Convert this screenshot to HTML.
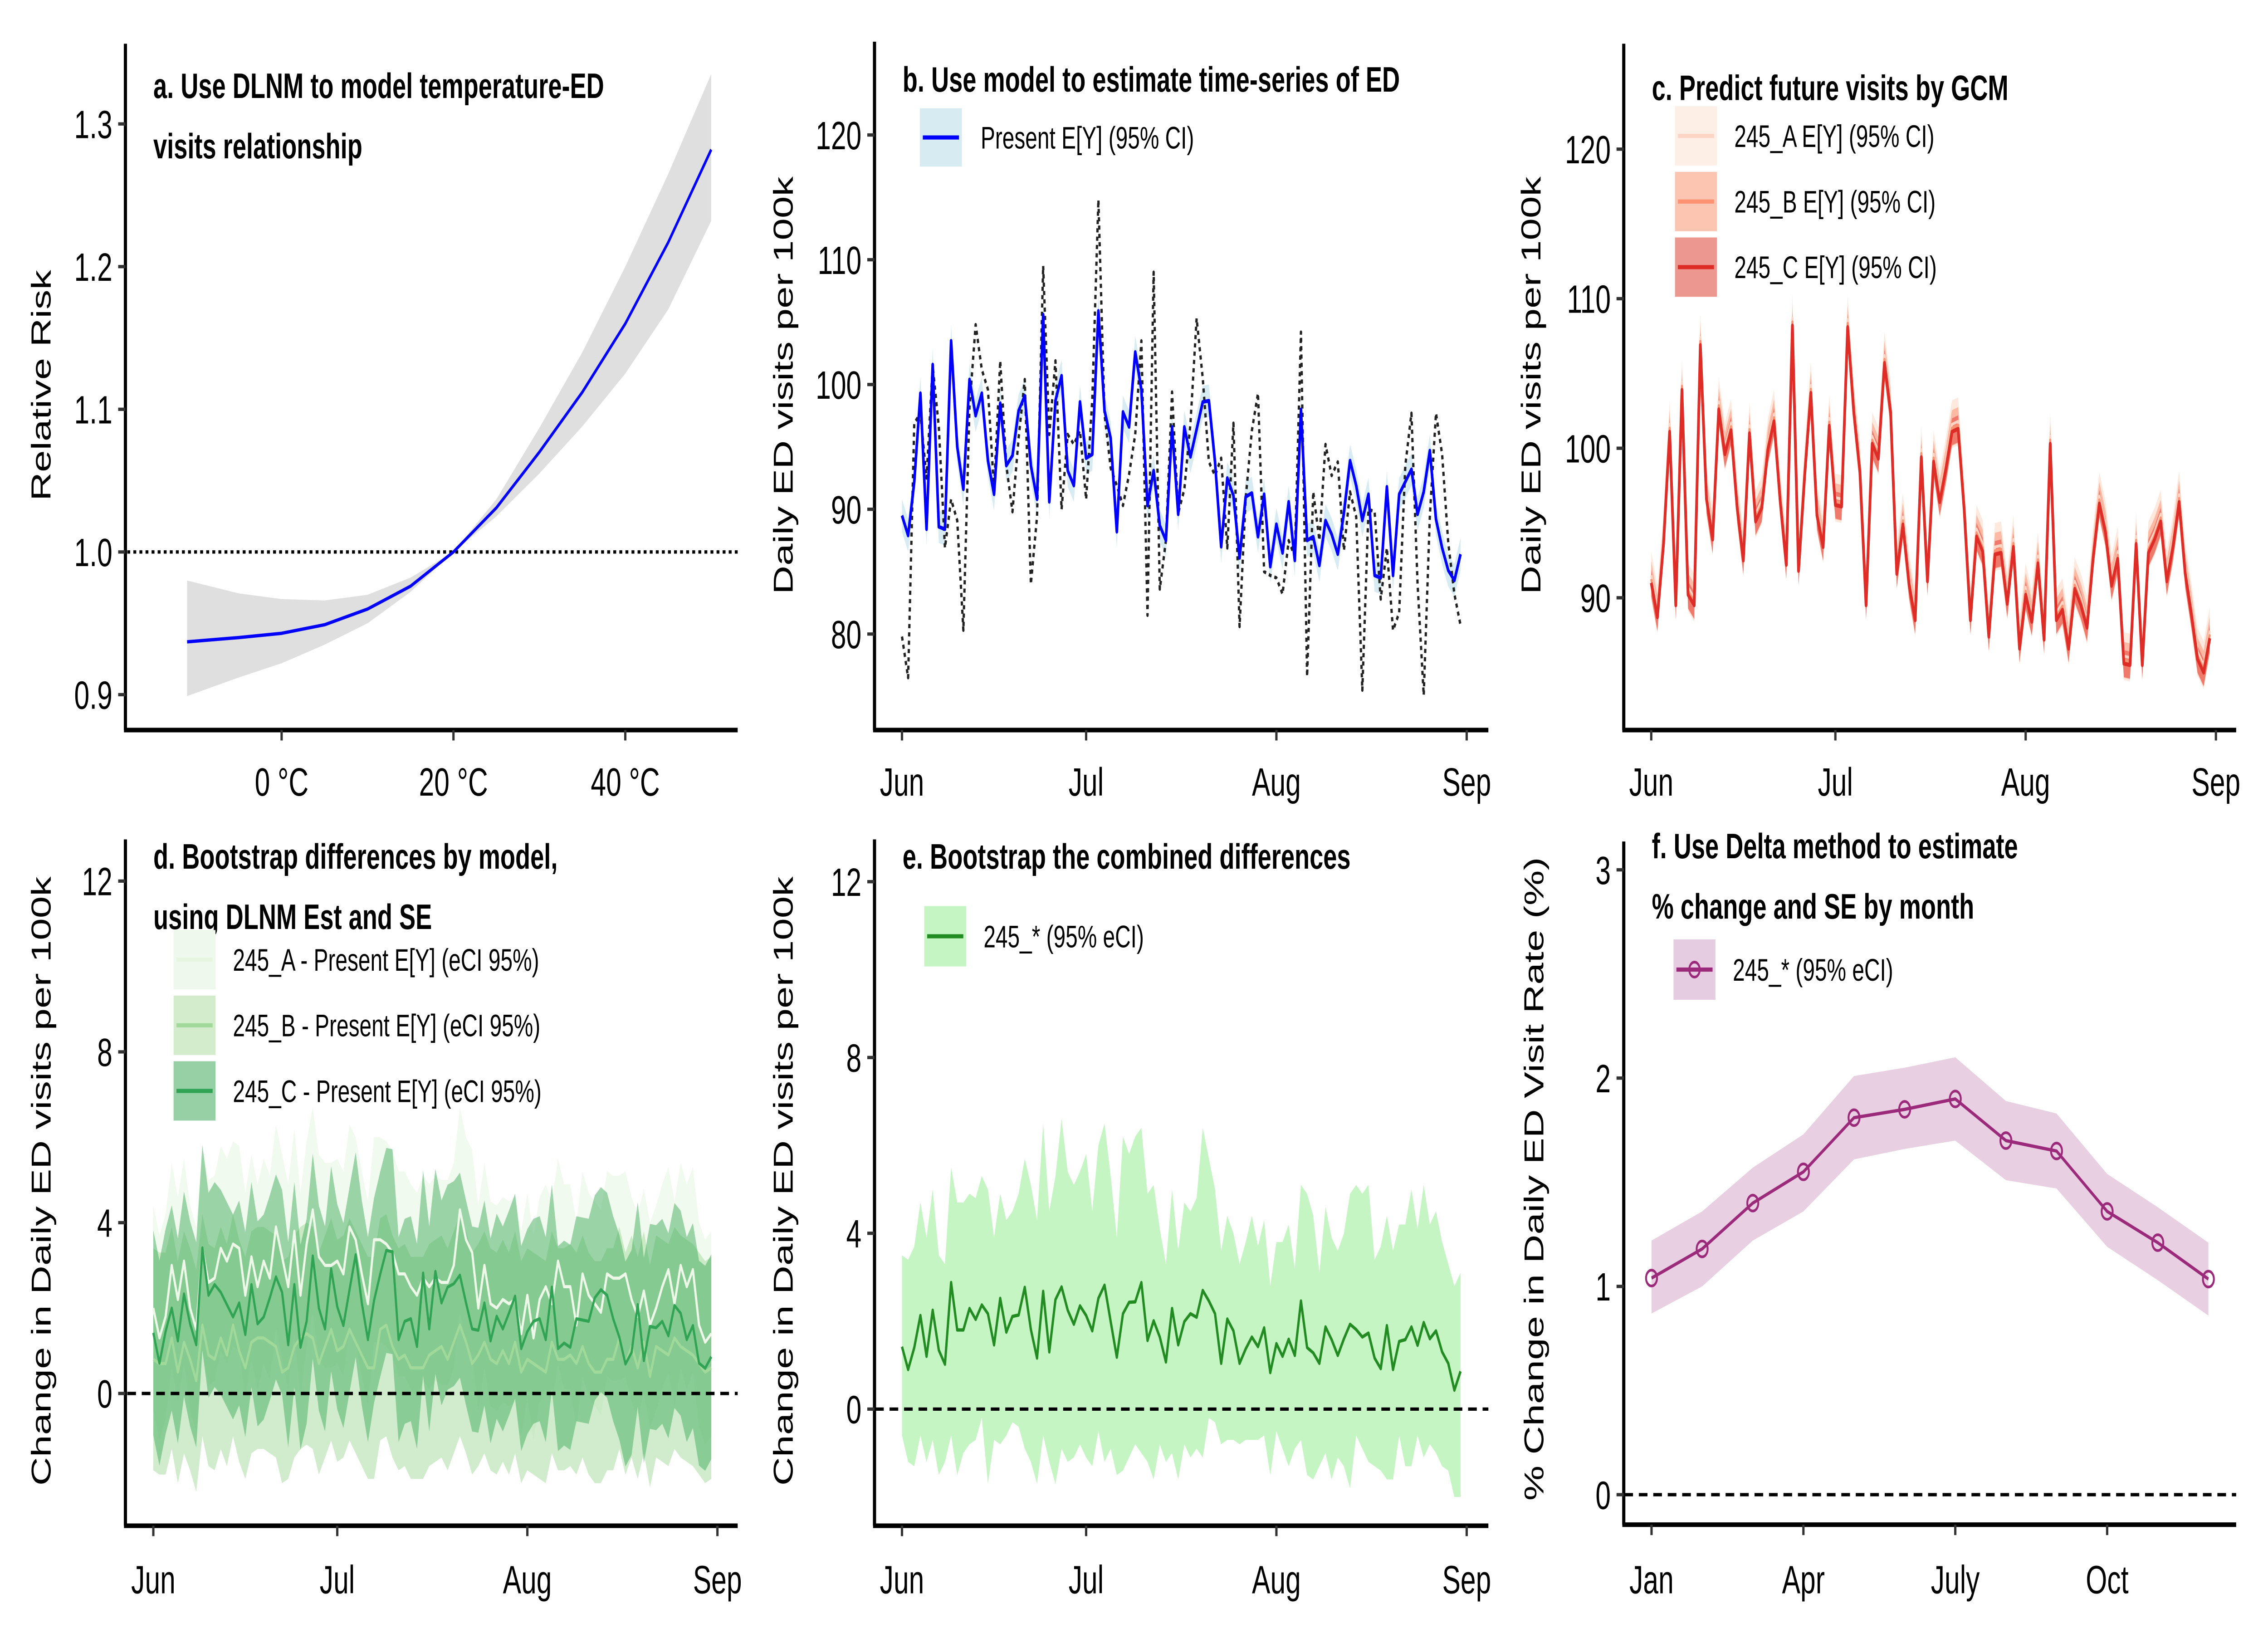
<!DOCTYPE html>
<html><head><meta charset="utf-8"><style>
html,body{margin:0;padding:0;background:#fff;width:100%;height:100%;overflow:hidden;}
svg{display:block;width:100vw;height:100vh;}
text{font-family:"Liberation Sans",Arial,sans-serif;}
</style></head><body>
<svg id="fig" xmlns="http://www.w3.org/2000/svg" viewBox="0 0 1568 784" preserveAspectRatio="none">
<rect x="0" y="0" width="1568" height="784" fill="#fff"/>
</svg>
<script>
// ---------- Panel a data ----------
const tempsA = [-11,-5,0,5,10,15,20,25,30,35,40,45,50];
const rrA = [0.937,0.940,0.943,0.949,0.960,0.976,1.0,1.031,1.070,1.112,1.160,1.217,1.282];
const rrLowA = [0.899,0.912,0.922,0.935,0.950,0.972,1.0,1.025,1.055,1.088,1.125,1.170,1.232];
const rrHighA = [0.980,0.971,0.967,0.966,0.970,0.982,1.0,1.037,1.087,1.140,1.200,1.265,1.335];
const ticksAx = [0,20,40];
const ticksAy = [0.9,1.0,1.1,1.2,1.3];
// ---------- Panel b data ----------
const presentB = [89.5,87.9,92.2,99.3,88.4,101.6,88.6,88.4,103.5,95.0,91.6,100.4,97.5,99.3,93.9,91.2,98.5,93.5,94.3,97.9,99.1,93.5,90.8,105.6,90.6,98.7,100.7,93.1,91.9,98.6,94.1,94.4,105.9,97.9,95.7,88.2,97.8,96.6,102.6,99.6,90.3,93.1,88.7,87.5,96.6,89.6,96.6,94.2,96.4,98.6,98.7,93.8,87.0,92.5,91.1,86.1,91.0,91.3,87.8,91.2,85.4,88.8,86.5,90.6,85.9,98.0,87.5,87.8,85.5,89.1,88.0,86.4,89.7,93.9,91.9,89.1,91.2,84.7,84.5,91.8,84.7,91.2,92.2,93.2,89.6,91.4,94.7,89.2,86.9,85.1,84.3,86.4];
const observedB = [79.8,76.5,96.9,97.7,92.5,101.5,96.6,86.9,90.8,89.1,80.3,98.2,104.8,101.2,99.6,91.6,101.9,93.5,89.8,95.7,100.4,84.0,89.4,109.5,96.0,101.9,90.0,96.0,95.2,96.3,90.8,98.8,114.8,97.6,93.3,91.9,90.3,92.8,96.0,103.5,81.5,109.0,83.6,87.5,99.4,89.7,91.6,96.9,105.3,100.5,93.8,92.7,94.1,86.9,96.9,80.6,90.9,96.3,99.3,85.0,84.7,84.5,83.2,87.5,86.2,104.2,76.6,91.4,87.5,95.2,92.7,93.8,86.7,91.4,89.4,75.5,90.0,89.8,82.8,86.9,80.3,81.7,93.5,97.7,84.0,75.1,89.5,97.7,94.4,87.3,83.2,80.7];
const ciHalfB = 1.3;
const ticksBy = [80,90,100,110,120];
const monthLabels = ['Jun','Jul','Aug','Sep'];
const monthDays = [0,30,61,92];
// ---------- Panel c data ----------
const futureC = [91.0,88.7,93.6,101.1,89.5,103.9,90.2,89.5,106.9,96.6,93.9,102.6,99.6,101.2,96.0,92.5,101.0,95.1,96.0,99.9,101.8,96.5,92.2,108.2,91.8,98.2,103.7,95.5,93.4,101.5,96.2,96.1,108.1,102.4,98.4,89.5,100.3,99.3,105.7,102.4,91.6,94.9,90.9,88.5,99.4,91.1,99.1,96.4,98.6,101.1,101.3,95.8,88.5,94.1,93.1,87.4,92.9,93.0,89.6,93.4,86.6,90.2,88.4,92.3,87.2,100.3,88.5,89.2,86.6,90.6,89.5,88.0,92.7,96.3,94.4,90.8,92.6,85.6,85.5,93.6,85.5,93.0,93.9,95.1,91.1,93.4,96.4,91.6,88.9,85.9,85.0,87.3];
const shiftC = [0.5,0.25,0];
const halfC = [1.6,1.2,0.9];
const ticksCy = [90,100,110,120];
// ---------- Panel d data ----------
const diffDA = [2.0,1.3,1.8,3.0,2.2,3.1,2.0,1.5,3.4,2.6,2.7,3.4,3.1,3.5,3.4,2.3,3.2,2.5,3.1,2.7,3.9,3.2,2.5,3.8,2.3,3.5,4.3,3.2,3.0,3.0,3.1,2.8,3.9,3.6,2.8,2.1,3.6,3.6,3.5,3.3,2.8,2.8,2.5,2.3,2.7,2.5,2.7,2.6,2.6,3.0,4.3,3.6,3.3,2.0,3.0,2.1,2.0,2.2,2.1,2.2,1.4,2.3,1.3,2.2,2.5,2.1,3.1,2.5,2.5,1.6,2.8,2.3,2.1,1.9,2.8,2.7,2.7,2.8,2.2,1.8,2.4,1.6,2.0,2.5,2.9,2.1,3.0,2.5,2.9,1.6,1.2,1.4];
const diffDB = [0.8,0.7,0.7,1.3,0.5,1.2,0.8,0.3,1.6,0.9,0.8,1.3,0.9,1.6,1.0,0.6,1.2,1.3,1.3,1.2,1.1,0.5,0.6,1.1,1.3,1.4,1.3,0.7,1.1,1.5,1.0,1.1,1.5,1.2,0.9,0.6,0.6,1.5,1.6,1.1,0.8,0.9,0.6,0.6,0.6,0.9,1.0,1.1,0.8,1.2,1.6,1.2,0.7,0.9,1.2,0.8,0.7,1.0,0.7,1.2,0.5,0.8,0.7,0.6,0.5,1.2,0.8,0.8,0.9,0.7,1.1,0.7,0.5,0.5,0.8,0.8,1.3,0.7,1.1,0.6,1.2,0.4,1.1,1.0,0.9,1.3,1.1,1.0,0.9,0.7,0.5,0.6];
const diffDC = [1.42,0.71,1.45,2.0,1.23,2.33,1.63,1.14,3.41,2.3,2.55,2.37,2.08,1.79,2.12,1.38,2.55,1.63,1.79,2.24,2.73,2.37,1.14,2.55,1.08,1.69,3.22,2.0,1.51,2.92,2.03,1.59,2.43,3.25,2.12,1.26,2.18,2.79,3.35,3.32,1.26,1.69,1.75,1.1,2.82,1.51,2.86,2.12,2.49,2.57,2.77,2.12,1.51,1.48,2.12,1.23,1.81,1.51,1.88,2.28,1.05,1.45,1.69,1.75,1.26,2.49,1.05,1.18,1.08,1.75,1.72,1.69,2.24,2.43,2.3,1.75,1.32,0.69,0.96,2.08,0.77,1.57,1.54,1.69,1.35,2.06,1.88,1.26,1.59,0.71,0.59,0.86];
const halfD = [2.4,2.6,2.4];
const ticksDy = [0,4,8,12];
// ---------- Panel e data ----------
const combE = [1.42,0.9,1.4,2.13,1.2,2.25,1.34,1.02,2.88,1.8,1.8,2.29,2.04,2.37,2.17,1.46,2.52,1.75,2.11,2.14,2.77,1.81,1.16,2.68,1.3,2.49,2.78,2.25,1.93,2.35,2.13,1.78,2.52,2.82,1.99,1.18,2.17,2.43,2.44,2.88,1.56,2.01,1.64,1.07,2.29,1.46,1.99,2.17,2.09,2.7,2.46,2.17,1.04,2.05,1.78,1.04,1.37,1.64,1.42,1.85,0.83,1.49,1.2,1.59,1.22,2.46,1.4,1.28,1.04,1.87,1.58,1.22,1.6,1.93,1.81,1.64,1.73,1.16,0.92,1.9,0.9,1.54,1.58,1.87,1.45,1.97,1.6,1.78,1.3,1.04,0.43,0.86];
const upperE = [3.5,3.4,3.7,4.7,3.9,5.0,3.5,3.3,5.5,4.7,4.7,4.9,4.8,5.3,5.0,3.9,4.9,4.3,4.5,4.9,5.7,5.1,4.3,6.5,4.5,5.3,6.6,5.4,5.1,5.4,5.8,4.5,6.0,6.5,5.3,3.9,6.2,5.8,6.2,6.4,4.9,5.1,4.1,3.3,5.0,3.6,4.7,4.5,4.8,6.4,5.7,5.0,3.6,4.4,4.0,3.3,3.8,4.4,3.7,4.3,2.8,3.8,3.8,4.2,3.2,5.1,4.9,4.4,3.1,4.6,3.9,3.6,4.0,4.9,5.1,4.9,5.1,3.4,3.7,4.4,3.6,4.2,4.2,5.0,4.1,5.1,4.2,4.5,3.8,3.3,2.8,3.1];
const lowerE = [-0.6,-1.2,-1.3,-0.6,-1.2,-0.7,-1.5,-1.2,-0.6,-1.5,-1.0,-0.8,-0.7,-0.2,-1.7,-0.7,-0.8,-0.6,-0.3,-0.4,-0.9,-1.2,-1.7,-0.6,-1.2,-1.7,-0.9,-1.2,-1.1,-0.8,-1.1,-1.3,-0.5,-1.2,-0.9,-1.5,-1.4,-1.1,-0.8,-1.0,-1.2,-1.6,-0.8,-1.2,-1.0,-1.6,-0.8,-1.1,-0.9,-1.1,-0.2,-0.3,-0.8,-0.7,-0.7,-0.8,-0.7,-0.7,-0.7,-0.6,-1.5,-0.5,-0.9,-1.3,-0.9,-0.7,-1.5,-1.6,-1.3,-1.0,-1.6,-1.1,-1.3,-1.8,-0.6,-0.9,-1.2,-1.3,-1.4,-1.6,-1.6,-0.6,-1.3,-1.3,-0.6,-1.1,-0.8,-1.0,-1.3,-1.4,-2.0,-2.0];
// ---------- Panel f data ----------
const monthsF = ['Jan','Feb','Mar','Apr','May','Jun','Jul','Aug','Sep','Oct','Nov','Dec'];
const pctF = [1.04,1.18,1.40,1.55,1.81,1.85,1.90,1.70,1.65,1.36,1.21,1.035];
const pctLowF = [0.87,1.0,1.22,1.36,1.61,1.66,1.70,1.51,1.47,1.19,1.03,0.86];
const pctHighF = [1.22,1.36,1.57,1.73,2.01,2.05,2.10,1.89,1.83,1.54,1.38,1.21];
const tickIdxF = [0,3,6,9];
const tickLabF = ['Jan','Apr','July','Oct'];
const ticksFy = [0,1,2,3];

const NS = 'http://www.w3.org/2000/svg';
const svg = document.getElementById('fig');
function mk(tag, attrs, parent){
  const e = document.createElementNS(NS, tag);
  for (const k in attrs) e.setAttribute(k, attrs[k]);
  (parent||svg).appendChild(e);
  return e;
}
function txt(s, attrs, parent){ const t = mk('text', attrs, parent); t.textContent = s; return t; }
function pts(xs, ys){ return xs.map((x,i)=>x.toFixed(2)+','+ys[i].toFixed(2)).join(' '); }

function axes(g, p){
  const ya = mk('line',{x1:p.ax,y1:p.top,x2:p.ax,y2:p.bot,stroke:'#000','stroke-width':2.2},g);
  
  
  const xa = mk('line',{x1:p.ax-1,y1:p.bot,x2:p.right,y2:p.bot,stroke:'#000','stroke-width':2.2},g);
  
  
}
function yTick(g, y, label, ax){
  const l = mk('line',{x1:ax-5,y1:y,x2:ax,y2:y,stroke:'#333','stroke-width':1.6},g);
  
  
  const t = txt(label,{x:ax-9,y:y+6.8,'font-size':19,'text-anchor':'end',fill:'#000'},g);
  
  
}
function xTick(g, x, label, bot, ty){
  const l = mk('line',{x1:x,y1:bot,x2:x,y2:bot+5,stroke:'#333','stroke-width':1.6},g);
  
  
  const t = txt(label,{x:x,y:ty,'font-size':19,'text-anchor':'middle',fill:'#000'},g);
  
  
}
function yTitle(g, s, x, cy){
  const t = txt(s,{x:0,y:0,'font-size':19,'text-anchor':'middle',fill:'#000',transform:'translate('+x+','+cy+') rotate(-90)'},g);
  
  
}
function title(g, lines, x, y0){
  lines.forEach((s,i)=>{
    const t = txt(s,{x:x,y:y0+i*29,'font-size':17,'font-weight':'bold',fill:'#000'},g);
    
    
  });
}
function legendEntry(g, x, y, h, fill, line, label, tx, marker){
  const r = mk('rect',{x:x,y:y,width:29,height:h,fill:fill},g);
  
  
  if (line){
    const l = mk('line',{x1:x+2,y1:y+h/2,x2:x+27,y2:y+h/2,stroke:line.c,'stroke-width':line.w},g);
    
    
  }
  if (marker){
    const c = mk('circle',{cx:x+14.5,cy:y+h/2,r:3.6,fill:'none',stroke:line.c,'stroke-width':1.3},g);
    
    
  }
  const t = txt(label,{x:tx,y:y+h/2+5.3,'font-size':15,fill:'#000'},g);
  
  
}
function band(g, xs, hi, lo, fill, op, name){
  const p = mk('polygon',{points:pts(xs.concat(xs.slice().reverse()), hi.concat(lo.slice().reverse())),fill:fill,'fill-opacity':op},g);
  
  
}
function line(g, xs, ys, color, w, name, dash){
  const a = {points:pts(xs,ys),fill:'none',stroke:color,'stroke-width':w,'stroke-linejoin':'round'};
  if (dash) a['stroke-dasharray']=dash;
  const p = mk('polyline',a,g);
  
  
}
function hline(g, x1, x2, y, dash, name){
  const l = mk('line',{x1:x1,y1:y,x2:x2,y2:y,stroke:'#000','stroke-width':1.6,'stroke-dasharray':dash},g);
  
  
}

// ===== Panel a =====
(function(){
  const g = mk('g',{});
  
  
  const X = t => 194.7 + t*5.94;
  const Y = v => 265 - (v-1)*685;
  const xs = tempsA.map(X);
  band(g, xs, rrHighA.map(Y), rrLowA.map(Y), '#d9d9d9', 0.85, 'ci-band');
  hline(g, 88, 510, Y(1), '2,2.2', 'reference-line');
  line(g, xs, rrA.map(Y), '#0000ff', 1.6, 'relative-risk-curve');
  const p = {ax:86.7, top:21, bot:350.5, right:510};
  axes(g, p);
  ticksAy.forEach(v=>yTick(g, Y(v), v.toFixed(1), p.ax));
  ticksAx.forEach(t=>xTick(g, X(t), t+' °C', p.bot, 382));
  yTitle(g, 'Relative Risk', 35, 185);
  title(g, ['a. Use DLNM to model temperature-ED','visits relationship'], 106, 47);
})();

// ===== Panel b =====
(function(){
  const g = mk('g',{});
  
  
  const X = i => 623.6 + i*(1014-623.6)/92;
  const Y = v => 304.4 - (v-80)*5.99;
  const xs = presentB.map((v,i)=>X(i));
  band(g, xs, presentB.map(v=>Y(v+ciHalfB)), presentB.map(v=>Y(v-ciHalfB)), '#add8e6', 0.5, 'present-ci-band');
  line(g, xs, observedB.map(Y), '#222', 1.6, 'observed-series', '2,2');
  line(g, xs, presentB.map(Y), '#0000ff', 1.8, 'present-series');
  const p = {ax:604.6, top:20, bot:350.5, right:1029};
  axes(g, p);
  ticksBy.forEach(v=>yTick(g, Y(v), String(v), p.ax));
  monthDays.forEach((d,i)=>xTick(g, X(d), monthLabels[i], p.bot, 382));
  yTitle(g, 'Daily ED visits per 100k', 548, 185);
  title(g, ['b. Use model to estimate time-series of ED'], 624, 44);
  legendEntry(g, 636, 52, 28, '#d7ebf2', {c:'#0000ff',w:2}, 'Present E[Y] (95% CI)', 678);
})();

// ===== Panel c =====
(function(){
  const g = mk('g',{});
  
  
  const X = i => 1141.6 + i*(1532-1141.6)/92;
  const Y = v => 287 - (v-90)*7.18;
  const xs = futureC.map((v,i)=>X(i));
  const fills = ['#fee0d2','#fc9272','#de2d26'];
  const ops = [0.7,0.55,0.45];
  const lines = ['#fcd5c5','#fc9272','#de2d26'];
  const names = ['245-a','245-b','245-c'];
  for (let s=0;s<3;s++){
    band(g, xs, futureC.map(v=>Y(v+shiftC[s]+halfC[s])), futureC.map(v=>Y(v+shiftC[s]-halfC[s])), fills[s], ops[s], names[s]+'-ci-band');
  }
  for (let s=0;s<3;s++){
    line(g, xs, futureC.map(v=>Y(v+shiftC[s])), lines[s], s==2?1.9:1.4, names[s]+'-series');
  }
  const p = {ax:1122.6, top:21, bot:350.5, right:1546};
  axes(g, p);
  ticksCy.forEach(v=>yTick(g, Y(v), String(v), p.ax));
  monthDays.forEach((d,i)=>xTick(g, X(d), monthLabels[i], p.bot, 382));
  yTitle(g, 'Daily ED visits per 100k', 1065, 185);
  title(g, ['c. Predict future visits by GCM'], 1142, 48);
  legendEntry(g, 1158, 51, 28.5, '#fdeee6', {c:'#fcd5c5',w:2}, '245_A E[Y] (95% CI)', 1199);
  legendEntry(g, 1158, 82.5, 28.5, '#fcc5b2', {c:'#fc9272',w:2}, '245_B E[Y] (95% CI)', 1199);
  legendEntry(g, 1158, 114, 28.5, '#ec9891', {c:'#de2d26',w:2}, '245_C E[Y] (95% CI)', 1199);
})();

// ===== Panel d =====
(function(){
  const g = mk('g',{});
  
  
  const X = i => 106 + i*(496-106)/92;
  const Y = v => 669 - v*20.5;
  const xs = diffDC.map((v,i)=>X(i));
  const series = [diffDA, diffDB, diffDC];
  const fills = ['#e5f5e0','#a1d99b','#41ab5d'];
  const ops = [0.55,0.5,0.5];
  const lines = ['#edf8e9','#a1d99b','#31a354'];
  const names = ['245-a','245-b','245-c'];
  for (let s=0;s<3;s++){
    band(g, xs, series[s].map(v=>Y(v+halfD[s])), series[s].map(v=>Y(v-halfD[s])), fills[s], ops[s], names[s]+'-eci-band');
  }
  hline(g, 88, 510, Y(0), '6,4', 'zero-line');
  for (let s=0;s<3;s++){
    line(g, xs, series[s].map(Y), lines[s], 1.5, names[s]+'-difference');
  }
  const p = {ax:86.7, top:403, bot:732.5, right:510};
  axes(g, p);
  ticksDy.forEach(v=>yTick(g, Y(v), String(v), p.ax));
  monthDays.forEach((d,i)=>xTick(g, X(d), monthLabels[i], p.bot, 765));
  yTitle(g, 'Change in Daily ED visits per 100k', 35, 567);
  title(g, ['d. Bootstrap differences by model,','using DLNM Est and SE'], 106, 417);
  legendEntry(g, 120, 446.5, 28.5, '#eff8ec', {c:'#e5f5e0',w:2}, '245_A - Present E[Y] (eCI 95%)', 161);
  legendEntry(g, 120, 478, 28.5, '#d3edcc', {c:'#a1d99b',w:2}, '245_B - Present E[Y] (eCI 95%)', 161);
  legendEntry(g, 120, 509.5, 28.5, '#98d0a5', {c:'#31a354',w:2}, '245_C - Present E[Y] (eCI 95%)', 161);
})();

// ===== Panel e =====
(function(){
  const g = mk('g',{});
  
  
  const X = i => 623.6 + i*(1014-623.6)/92;
  const Y = v => 676.5 - v*21.1;
  const xs = combE.map((v,i)=>X(i));
  band(g, xs, upperE.map(Y), lowerE.map(Y), '#c6f5c4', 1, 'combined-eci-band');
  hline(g, 605, 1029, Y(0), '6,4', 'zero-line');
  line(g, xs, combE.map(Y), '#228b22', 1.6, 'combined-difference');
  const p = {ax:604.6, top:403, bot:732.5, right:1029};
  axes(g, p);
  ticksDy.forEach(v=>yTick(g, Y(v), String(v), p.ax));
  monthDays.forEach((d,i)=>xTick(g, X(d), monthLabels[i], p.bot, 765));
  yTitle(g, 'Change in Daily ED visits per 100k', 548, 567);
  title(g, ['e. Bootstrap the combined differences'], 624, 417);
  legendEntry(g, 639, 435, 29, '#c6f5c4', {c:'#228b22',w:2}, '245_* (95% eCI)', 680);
})();

// ===== Panel f =====
(function(){
  const g = mk('g',{});
  
  
  const X = m => 1141.8 + m*35.0;
  const Y = v => 717.6 - v*100;
  const xs = pctF.map((v,i)=>X(i));
  band(g, xs, pctHighF.map(Y), pctLowF.map(Y), '#dcb5d3', 0.65, 'pct-change-eci-band');
  hline(g, 1123, 1546, Y(0), '6,4', 'zero-line');
  line(g, xs, pctF.map(Y), '#9b2a7b', 1.6, 'pct-change-line');
  pctF.forEach((v,i)=>{
    const c = mk('circle',{cx:X(i),cy:Y(v),r:3.8,fill:'none',stroke:'#9b2a7b','stroke-width':1.3},g);
    
    
  });
  const p = {ax:1122.6, top:404, bot:732, right:1546};
  axes(g, p);
  ticksFy.forEach(v=>yTick(g, Y(v), String(v), p.ax));
  tickIdxF.forEach((m,i)=>xTick(g, X(m), tickLabF[i], p.bot, 765));
  yTitle(g, '% Change in Daily ED Visit Rate (%)', 1067, 566);
  title(g, ['f. Use Delta method to estimate','% change and SE by month'], 1142, 412);
  legendEntry(g, 1157, 451, 29, '#e6cce0', {c:'#9b2a7b',w:2}, '245_* (95% eCI)', 1198, true);
})();
</script>
</body></html>
